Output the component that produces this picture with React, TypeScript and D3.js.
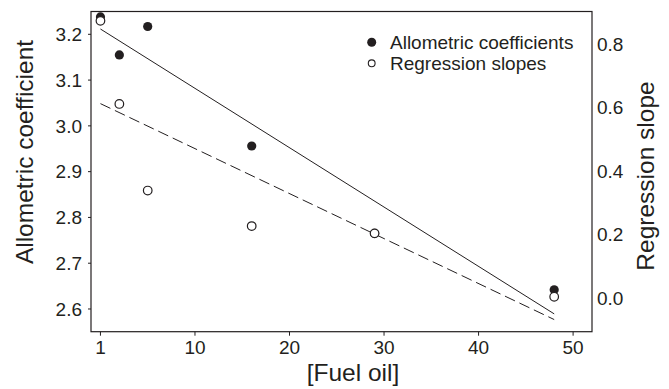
import React from "react";
import { scaleLinear, mean } from "d3";

// fuel oil concentration (first treatment sits at 0, labelled "1" on the axis)
const concentrations = [0, 2, 5, 16, 29, 48];
const allometric = [3.238, 3.155, 3.217, 2.956, 2.765, 2.642];
const slopes = [0.873, 0.611, 0.338, 0.226, 0.203, 0.003];

const xTicks = [0, 10, 20, 30, 40, 50];
const xTickLabels = ["1", "10", "20", "30", "40", "50"];
const leftTicks = [2.6, 2.7, 2.8, 2.9, 3.0, 3.1, 3.2];
const rightTicks = [0.0, 0.2, 0.4, 0.6, 0.8];

const legendItems = ["Allometric coefficients", "Regression slopes"];

const W = 669;
const H = 389;
const box = { left: 91, right: 592, top: 11.5, bottom: 331.7 };
const ink = "#231f20";
const font = "'Liberation Sans', Arial, Helvetica, sans-serif";

// ordinary least squares fit
function fit(xs: number[], ys: number[]) {
  const mx = mean(xs) ?? 0;
  const my = mean(ys) ?? 0;
  let sxy = 0;
  let sxx = 0;
  xs.forEach((x, i) => {
    sxy += (x - mx) * (ys[i] - my);
    sxx += (x - mx) * (x - mx);
  });
  const b = sxy / sxx;
  return (x: number) => my + b * (x - mx);
}

export default function App() {
  const x = scaleLinear().domain([-1.0, 52.0]).range([box.left, box.right]);
  const yL = scaleLinear().domain([2.5504, 3.2498]).range([box.bottom, box.top]);
  const yR = scaleLinear().domain([-0.107, 0.9025]).range([box.bottom, box.top]);

  const fitA = fit(concentrations, allometric);
  const fitS = fit(concentrations, slopes);
  const x0 = concentrations[0];
  const x1 = concentrations[concentrations.length - 1];

  return (
    <svg
      width={W}
      height={H}
      style={{ position: "absolute", left: 0, top: 0, background: "#fff" }}
      fontFamily={font}
    >
      {/* frame */}
      <rect
        x={box.left}
        y={box.top}
        width={box.right - box.left}
        height={box.bottom - box.top}
        fill="none"
        stroke={ink}
        strokeWidth={1.2}
      />

      {/* left axis */}
      {leftTicks.map((t) => (
        <g key={t} transform={`translate(0,${yL(t)})`}>
          <line x1={box.left - 3} x2={box.left} stroke={ink} strokeWidth={1} />
          <text x={82} dy="0.36em" textAnchor="end" fontSize={19} fill={ink}>
            {t.toFixed(1)}
          </text>
        </g>
      ))}

      {/* right axis, labels only */}
      {rightTicks.map((t) => (
        <text key={t} x={597} y={yR(t)} dy="0.36em" fontSize={19} fill={ink}>
          {t.toFixed(1)}
        </text>
      ))}

      {/* bottom axis */}
      {xTicks.map((t, i) => (
        <g key={t} transform={`translate(${x(t)},0)`}>
          <line y1={box.bottom} y2={box.bottom + 4} stroke={ink} strokeWidth={1} />
          <text y={354} textAnchor="middle" fontSize={19} fill={ink}>
            {xTickLabels[i]}
          </text>
        </g>
      ))}

      {/* axis titles */}
      <text x={353} y={381} textAnchor="middle" fontSize={24.5} fill={ink}>
        [Fuel oil]
      </text>
      <text
        transform="translate(33,152) rotate(-90)"
        textAnchor="middle"
        fontSize={24.5}
        fill={ink}
      >
        Allometric coefficient
      </text>
      <text
        transform="translate(654,176) rotate(-90)"
        textAnchor="middle"
        fontSize={24.5}
        fill={ink}
      >
        Regression slope
      </text>

      {/* fitted lines */}
      <line
        x1={x(x0)}
        y1={yL(fitA(x0))}
        x2={x(x1)}
        y2={yL(fitA(x1))}
        stroke={ink}
        strokeWidth={1}
      />
      <line
        x1={x(x0)}
        y1={yR(fitS(x0))}
        x2={x(x1)}
        y2={yR(fitS(x1))}
        stroke={ink}
        strokeWidth={1}
        strokeDasharray="11,5"
      />

      {/* points: filled first, open on top */}
      {concentrations.map((c, i) => (
        <circle key={`a${c}`} cx={x(c)} cy={yL(allometric[i])} r={4.6} fill={ink} />
      ))}
      {concentrations.map((c, i) => (
        <circle
          key={`s${c}`}
          cx={x(c)}
          cy={yR(slopes[i])}
          r={4.3}
          fill="#fff"
          stroke={ink}
          strokeWidth={1.2}
        />
      ))}

      {/* legend */}
      <g>
        <circle cx={371.7} cy={42.3} r={4.5} fill={ink} />
        <text x={390} y={42.3} dy="0.36em" fontSize={19} fill={ink}>
          {legendItems[0]}
        </text>
        <circle cx={371.7} cy={63.3} r={3.4} fill="#fff" stroke={ink} strokeWidth={1.1} />
        <text x={390} y={63.3} dy="0.36em" fontSize={19} fill={ink}>
          {legendItems[1]}
        </text>
      </g>
    </svg>
  );
}
